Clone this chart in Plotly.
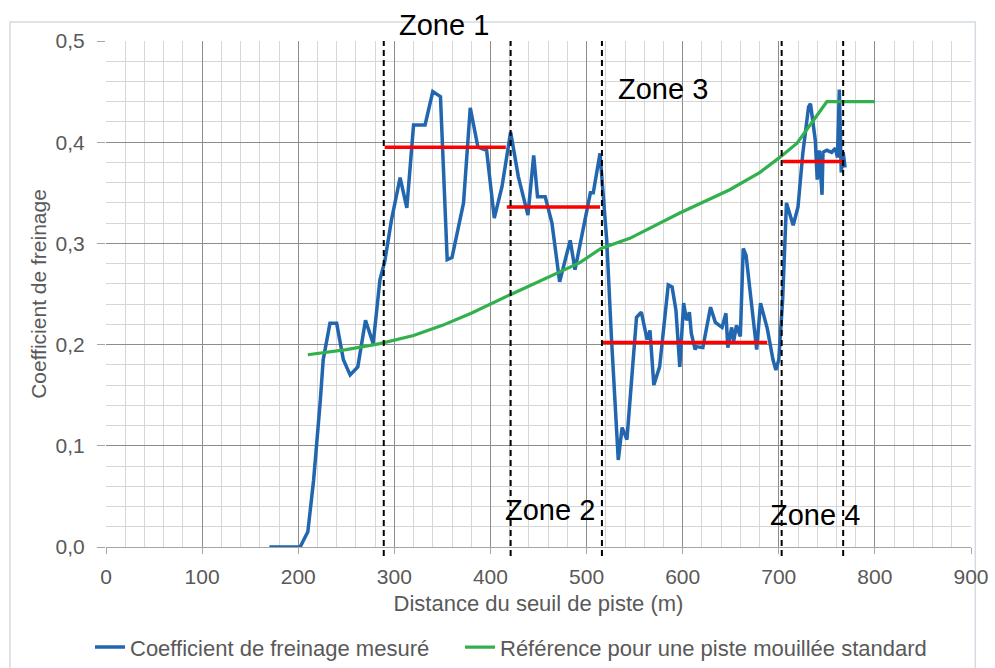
import plotly.graph_objects as go

# Measured braking coefficient along the runway (distance in m, coefficient)
dist_mesure = [170, 202, 210, 216, 223, 226, 233, 240, 247, 254, 262, 270, 278, 285, 290, 297,
               306, 313, 320, 332, 340, 348, 355, 360, 372, 379, 387, 396, 404, 412, 421, 429,
               439, 445, 449, 457, 464, 472, 483, 488, 504, 507, 514, 521, 526, 530, 533, 537,
               542, 552, 557, 563, 566, 570, 576, 585, 589, 593, 597, 601, 604, 607, 609, 613,
               614, 621, 629, 634, 641, 645, 647, 651, 653, 656, 660, 663, 666, 672, 677, 681,
               688, 694, 697, 700, 704, 708, 715, 720, 725, 731, 733, 738, 740, 742, 745, 746,
               750, 755, 759, 761, 763, 765, 767, 769]
coef_mesure = [0.0, 0.0, 0.015, 0.066, 0.145, 0.185, 0.221, 0.221, 0.185, 0.170, 0.178, 0.224,
               0.201, 0.264, 0.282, 0.323, 0.365, 0.335, 0.417, 0.417, 0.450, 0.445, 0.284, 0.286,
               0.340, 0.434, 0.395, 0.392, 0.325, 0.356, 0.410, 0.366, 0.328, 0.387, 0.346, 0.346,
               0.320, 0.262, 0.303, 0.274, 0.350, 0.350, 0.389, 0.303, 0.205, 0.142, 0.086, 0.118,
               0.106, 0.227, 0.232, 0.205, 0.214, 0.160, 0.178, 0.259, 0.257, 0.234, 0.178, 0.241,
               0.224, 0.232, 0.211, 0.195, 0.198, 0.197, 0.237, 0.222, 0.217, 0.231, 0.197, 0.217,
               0.203, 0.219, 0.208, 0.295, 0.288, 0.237, 0.195, 0.241, 0.216, 0.185, 0.175, 0.185,
               0.244, 0.340, 0.318, 0.336, 0.389, 0.435, 0.438, 0.402, 0.363, 0.392, 0.348, 0.390,
               0.392, 0.390, 0.394, 0.385, 0.452, 0.370, 0.390, 0.375]

# Reference curve for a standard wet runway
dist_ref = [210, 250, 285, 320, 350, 380, 420, 470, 493, 515, 545, 597, 649, 680, 701, 719, 735, 750, 800]
coef_ref = [0.190, 0.195, 0.201, 0.209, 0.219, 0.231, 0.249, 0.271, 0.281, 0.295, 0.305, 0.330,
            0.353, 0.370, 0.385, 0.399, 0.420, 0.440, 0.440]

# Zone boundaries and the mean coefficient per zone
zone_limites = [289, 421, 516, 703, 767]
zone_debut = [290, 417, 516, 704]
zone_fin = [416, 514, 688, 767]
zone_moyenne = [0.395, 0.336, 0.202, 0.381]
zone_noms = ["Zone 1", "Zone 2", "Zone 3", "Zone 4"]
zone_label_x = [352, 462, 580, 738]
# label heights as fractions of the plot height (Zone 1 sits above the plot area)
zone_label_y = [1.032, 0.073, 0.906, 0.063]

x_ticks = [0, 100, 200, 300, 400, 500, 600, 700, 800, 900]
y_ticks = [0.0, 0.1, 0.2, 0.3, 0.4, 0.5]

GRIS = "#595959"
FONT = "Liberation Sans, Arial, sans-serif"

fig = go.Figure()

fig.add_trace(go.Scatter(
    x=dist_mesure, y=coef_mesure, mode="lines",
    name="Coefficient de freinage mesuré",
    line=dict(color="#2166ae", width=3.5),
    legend="legend",
))
fig.add_trace(go.Scatter(
    x=dist_ref, y=coef_ref, mode="lines",
    name="Référence pour une piste mouillée standard",
    line=dict(color="#33b04e", width=3.2),
    legend="legend2",
))

for x0, x1, m in zip(zone_debut, zone_fin, zone_moyenne):
    fig.add_trace(go.Scatter(
        x=[x0, x1], y=[m, m], mode="lines", showlegend=False, hoverinfo="skip",
        line=dict(color="#ff0000", width=3.5),
    ))

shapes = []
for xb in zone_limites:
    shapes.append(dict(
        type="line", xref="x", yref="paper", x0=xb, x1=xb, y0=-0.018, y1=1.0,
        line=dict(color="black", width=2, dash="6px,4px"),
    ))
# outer chart frame
shapes.append(dict(
    type="rect", xref="paper", yref="paper", x0=-0.111, x1=1.005, y0=-0.26, y1=1.0375,
    line=dict(color="#d4dbe3", width=1.5), fillcolor="rgba(0,0,0,0)", layer="below",
))

annotations = []
for nom, ax, ay in zip(zone_noms, zone_label_x, zone_label_y):
    annotations.append(dict(
        x=ax, y=ay, xref="x", yref="paper", text=nom, showarrow=False,
        font=dict(family=FONT, size=29, color="black"),
        xanchor="center", yanchor="middle",
    ))

legend_common = dict(
    orientation="h", xref="container", yref="container", xanchor="left",
    y=0.031, yanchor="middle", itemwidth=30, bgcolor="rgba(0,0,0,0)",
    font=dict(family=FONT, size=22, color=GRIS),
)

fig.update_layout(
    width=995, height=668,
    margin=dict(l=106, r=24, t=41, b=121, autoexpand=False),
    paper_bgcolor="white", plot_bgcolor="white",
    separators=", ",
    font=dict(family=FONT, size=21, color=GRIS),
    shapes=shapes,
    annotations=annotations,
    legend=dict(x=90 / 995, **legend_common),
    legend2=dict(x=460 / 995, **legend_common),
    showlegend=True,
)

fig.update_xaxes(
    range=[0, 900], tickvals=x_ticks,
    showgrid=True, gridcolor="#8c8c8c", gridwidth=1,
    minor=dict(dtick=20, showgrid=True, gridcolor="#d6d6d6", gridwidth=1),
    showline=True, linecolor="#a6a6a6", linewidth=1,
    ticks="outside", ticklen=6, tickcolor="#a6a6a6",
    ticklabelstandoff=5,
    tickfont=dict(family=FONT, size=21, color=GRIS),
    title=dict(text="Distance du seuil de piste (m)", standoff=8,
               font=dict(family=FONT, size=22, color=GRIS)),
    zeroline=False, fixedrange=True, automargin=False,
)
fig.update_yaxes(
    range=[0, 0.5], tickvals=y_ticks, tickformat=".1f",
    showgrid=True, gridcolor="#8c8c8c", gridwidth=1,
    minor=dict(dtick=0.02, showgrid=True, gridcolor="#d6d6d6", gridwidth=1),
    showline=False,
    ticks="outside", ticklen=8, tickcolor="#a6a6a6",
    ticklabelstandoff=8,
    tickfont=dict(family=FONT, size=21, color=GRIS),
    title=dict(text="Coefficient de freinage", standoff=3,
               font=dict(family=FONT, size=21, color=GRIS)),
    zeroline=False, fixedrange=True, automargin=False,
)

fig.write_html("out.html")
